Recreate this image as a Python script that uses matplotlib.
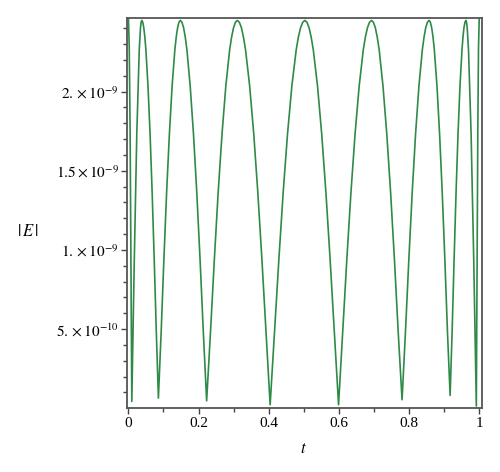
import matplotlib
matplotlib.use("Agg")
import matplotlib.pyplot as plt
from matplotlib.ticker import FixedLocator, FixedFormatter

plt.rcParams['font.family'] = ['Liberation Serif', 'DejaVu Serif']
plt.rcParams['mathtext.fontset'] = 'stix'

# |E| (units of 1e-9) versus t
t_vals = [0.0, 0.0024, 0.0049, 0.0073, 0.0097,
          0.0168, 0.0239, 0.0309, 0.0345, 0.0362, 0.038,
          0.0410, 0.0439, 0.0469, 0.0499, 0.0558, 0.0618, 0.0677, 0.0736, 0.0796, 0.0855,
          0.0933, 0.1011, 0.1089, 0.1168, 0.1246, 0.1324, 0.1363, 0.1402, 0.1441, 0.148,
          0.1527, 0.1574, 0.1621, 0.1668, 0.1761, 0.1855, 0.1949, 0.2043, 0.2136, 0.223,
          0.2339, 0.2449, 0.2558, 0.2668, 0.2777, 0.2886, 0.2941, 0.2996, 0.3050, 0.3105,
          0.3163, 0.3222, 0.3280, 0.3339, 0.3456, 0.3573, 0.3689, 0.3806, 0.3923, 0.404,
          0.4164, 0.4288, 0.4411, 0.4535, 0.4659, 0.4783, 0.4844, 0.4906, 0.4968, 0.503,
          0.509, 0.515, 0.521, 0.527, 0.539, 0.551, 0.563, 0.575, 0.587, 0.599,
          0.6108, 0.6225, 0.6343, 0.646, 0.6578, 0.6695, 0.6754, 0.6813, 0.6871, 0.693,
          0.6984, 0.7039, 0.7093, 0.7148, 0.7256, 0.7365, 0.7474, 0.7583, 0.7691, 0.780,
          0.7896, 0.7993, 0.8089, 0.8185, 0.8281, 0.8378, 0.8426, 0.8474, 0.8522, 0.857,
          0.8608, 0.8645, 0.8683, 0.872, 0.8795, 0.887, 0.8945, 0.902, 0.9095, 0.917,
          0.9226, 0.9283, 0.9339, 0.9395, 0.9451, 0.9508, 0.9536, 0.9564, 0.9592, 0.962,
          0.9639, 0.9657, 0.9694, 0.9768, 0.9843, 0.9917,
          0.9938, 0.9959, 0.9979, 1.0]

E_vals = [2.467, 2.280, 1.745, 0.945, 0.043,
          0.938, 1.732, 2.264, 2.403, 2.438, 2.45,
          2.438, 2.403, 2.344, 2.264, 2.036, 1.732, 1.362, 0.938, 0.478, 0.064,
          0.478, 0.938, 1.362, 1.732, 2.036, 2.264, 2.344, 2.403, 2.438, 2.45,
          2.438, 2.403, 2.344, 2.264, 2.036, 1.732, 1.362, 0.938, 0.478, 0.047,
          0.478, 0.938, 1.362, 1.732, 2.036, 2.264, 2.344, 2.403, 2.438, 2.45,
          2.438, 2.403, 2.344, 2.264, 2.036, 1.732, 1.362, 0.938, 0.478, 0.022,
          0.478, 0.938, 1.362, 1.732, 2.036, 2.264, 2.344, 2.403, 2.438, 2.45,
          2.438, 2.403, 2.344, 2.264, 2.036, 1.732, 1.362, 0.938, 0.478, 0.022,
          0.478, 0.938, 1.362, 1.732, 2.036, 2.264, 2.344, 2.403, 2.438, 2.45,
          2.438, 2.403, 2.344, 2.264, 2.036, 1.732, 1.362, 0.938, 0.478, 0.054,
          0.478, 0.938, 1.362, 1.732, 2.036, 2.264, 2.344, 2.403, 2.438, 2.45,
          2.438, 2.403, 2.344, 2.264, 2.036, 1.732, 1.362, 0.938, 0.478, 0.081,
          0.478, 0.938, 1.362, 1.732, 2.036, 2.264, 2.344, 2.403, 2.438, 2.45,
          2.438, 2.403, 2.264, 1.732, 0.938, 0.014,
          0.945, 1.745, 2.280, 2.467]
E_unit = 1e-9

x_ticks = [0, 0.2, 0.4, 0.6, 0.8, 1.0]
x_tick_labels = ["0", "0.2", "0.4", "0.6", "0.8", "1"]
y_ticks = [5e-10, 1e-9, 1.5e-9, 2e-9]
y_tick_labels = [r"$5.\times10^{-10}$", r"$1.\times10^{-9}$",
                 r"$1.5\times10^{-9}$", r"$2.\times10^{-9}$"]

fig = plt.figure(figsize=(5.0, 4.72), dpi=100)
ax = fig.add_axes([0.254, 0.135, 0.7094, 0.8275])

ax.plot(t_vals, [e * E_unit for e in E_vals], color='#2f8a47', lw=1.2,
        solid_joinstyle='round')

ax.set_xlim(-0.004, 1.007)
ax.set_ylim(0, 2.467e-9)

ax.xaxis.set_major_locator(FixedLocator(x_ticks))
ax.xaxis.set_major_formatter(FixedFormatter(x_tick_labels))
ax.xaxis.set_minor_locator(FixedLocator([0.1, 0.3, 0.5, 0.7, 0.9]))
ax.yaxis.set_major_locator(FixedLocator(y_ticks))
ax.yaxis.set_major_formatter(FixedFormatter(y_tick_labels))
ax.yaxis.set_minor_locator(FixedLocator([k * 1e-10 for k in range(1, 25) if k % 5 != 0]))

ax.tick_params(which='major', direction='out', length=4, width=1, color='#444444',
               labelsize=11, pad=2)
ax.tick_params(which='minor', direction='out', length=3, width=1, color='#444444')
for s in ax.spines.values():
    s.set_color('#555555')
    s.set_linewidth(1.3)

fig.text(0.056, 0.508, r"$|\,E\,|$", fontsize=12, ha='center', va='center')
fig.text(0.606, 0.049, r"$t$", fontsize=12, ha='center', va='center')

fig.savefig("out.png", dpi=100)
